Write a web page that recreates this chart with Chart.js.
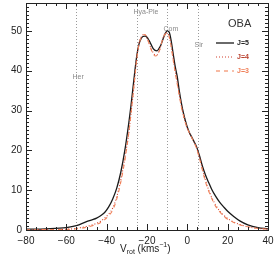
<!DOCTYPE html>
<html>
<head>
<meta charset="utf-8">
<script src="https://cdn.jsdelivr.net/npm/chart.js@4/dist/chart.umd.min.js"></script>
<style>
  html, body { margin: 0; padding: 0; background: #fff; }
  #wrap { width: 274px; height: 256px; }
</style>
</head>
<body>
<div id="wrap"><canvas id="c" width="274" height="256"></canvas></div>
<script>
// Rotation-velocity distribution, three smoothing levels.
const vel = [-80, -70, -60, -55, -50, -47, -45, -43, -41, -39,
  -37, -35, -33, -31, -29, -28, -27, -26, -25, -24,
  -23, -22, -21, -20, -19, -18, -17, -16, -15, -14,
  -13, -12, -11, -10, -9, -8, -7, -6, -5, -4,
  -3, -2, -1, 0, 1, 2, 3, 4.5, 6, 7.5,
  9, 10.5, 12, 14, 16, 18, 20, 23, 26, 30,
  35, 40];
const j5 = [0.2, 0.3, 0.6, 1.1, 2.1, 2.6, 3.0, 3.6, 4.4, 5.8,
  7.8, 10.5, 14.5, 20, 27, 31, 35.5, 40, 44, 46.6,
  48, 48.6, 48.7, 48.4, 47.6, 46.6, 45.6, 45.1, 45.0, 45.6,
  46.6, 48, 49.3, 50, 49.7, 47.5, 44.2, 41, 38.5, 35,
  32, 29.5, 27.5, 25.8, 24.5, 23.5, 22.5, 21, 18.7, 16,
  13.8, 12, 10.3, 8.5, 7, 5.8, 4.7, 3.4, 2.3, 1.3,
  0.6, 0.3];
const j4 = [0.05, 0.1, 0.2, 0.4, 0.9, 1.3, 1.7, 2.2, 3.0, 4.0,
  5.5, 8.3, 12.5, 18, 24.5, 29, 33.5, 38.5, 43.5, 46.8,
  48.3, 49, 49, 48.2, 46.9, 45.6, 44.6, 44.0, 44.0, 44.9,
  46.6, 48.3, 49.3, 49.5, 48.6, 46.3, 43, 39.8, 37, 34,
  31.2, 29, 27, 25.5, 24.4, 23.4, 22.4, 20.8, 18.3, 15.3,
  12.5, 10.2, 8.3, 6.3, 4.8, 3.7, 2.9, 2.0, 1.4, 0.8,
  0.4, 0.2];
const j3 = [0.05, 0.1, 0.15, 0.3, 0.7, 1.1, 1.4, 1.9, 2.6, 3.6,
  5.0, 7.8, 12, 17.5, 24.5, 29, 33.5, 38.5, 43.3, 46.5,
  48.2, 49, 49.1, 48.3, 46.9, 45.4, 44.3, 43.7, 43.8, 44.8,
  46.5, 48.2, 49.2, 49.4, 48.5, 46, 42.6, 39.5, 36.6, 33.8,
  31, 28.9, 27, 25.5, 24.4, 23.4, 22.3, 20.6, 18, 15,
  12.1, 9.9, 8.0, 6.0, 4.6, 3.5, 2.7, 1.9, 1.3, 0.8,
  0.4, 0.2];

// Moving groups marked with dotted verticals.
const groupNames = ['Her', 'Hya-Ple', 'Com', 'Sir'];
const groupV = [-55, -25, -10, 5.5];
const groupLabelY = [38.5, 54.6, 50.4, 46.5];

const seriesNames = ['J=5', 'J=4', 'J=3'];
const seriesColors = ['#1a1a1a', '#d2402e', '#f0825a'];
const seriesText = ['#222222', '#b8402e', '#f0805a'];
const seriesDash = [[], [1, 2], [4, 4]];
const seriesWidth = [1.3, 1.1, 1.1];

const FONT = '"Liberation Sans", Arial, sans-serif';
const pts = ys => vel.map((v, i) => ({ x: v, y: ys[i] }));

const deco = {
  id: 'deco',
  beforeDatasetsDraw(chart) {
    const { ctx, chartArea: a, scales: { x, y } } = chart;
    ctx.save();
    ctx.strokeStyle = '#9a9a9a'; ctx.lineWidth = 1; ctx.setLineDash([1, 2]);
    ctx.font = `7px ${FONT}`; ctx.fillStyle = '#8a8a8a'; ctx.textBaseline = 'middle';
    groupV.forEach((v, i) => {
      const px = Math.round(x.getPixelForValue(v)) + 0.5;
      ctx.beginPath(); ctx.moveTo(px, a.top); ctx.lineTo(px, a.bottom); ctx.stroke();
      ctx.fillText(groupNames[i], px - 4, y.getPixelForValue(groupLabelY[i]));
    });
    ctx.restore();
  },
  afterDraw(chart) {
    const { ctx, chartArea: a, scales: { x, y } } = chart;
    ctx.save();
    ctx.strokeStyle = '#222'; ctx.lineWidth = 1;
    ctx.strokeRect(Math.round(a.left) + 0.5, Math.round(a.top) + 0.5,
      Math.round(a.right - a.left), Math.round(a.bottom - a.top));
    // inward ticks on all four sides, IDL style
    ctx.beginPath();
    for (let v = -80; v <= 40; v += 5) {
      const px = Math.round(x.getPixelForValue(v)) + 0.5;
      const len = v % 20 === 0 ? 6 : 3;
      ctx.moveTo(px, a.bottom); ctx.lineTo(px, a.bottom - len);
      ctx.moveTo(px, a.top); ctx.lineTo(px, a.top + len);
    }
    for (let v = 0; v <= 57; v += 1) {
      const py = Math.round(y.getPixelForValue(v)) + 0.5;
      const len = v % 10 === 0 ? 6 : 3;
      ctx.moveTo(a.left, py); ctx.lineTo(a.left + len, py);
      ctx.moveTo(a.right, py); ctx.lineTo(a.right - len, py);
    }
    ctx.stroke();

    // legend
    ctx.fillStyle = '#333'; ctx.font = `11px ${FONT}`; ctx.textBaseline = 'alphabetic';
    ctx.fillText('OBA', 228, 27);
    ctx.font = `bold 7px ${FONT}`; ctx.textBaseline = 'middle';
    seriesNames.forEach((n, i) => {
      const ly = 43 + i * 14;
      ctx.strokeStyle = seriesColors[i]; ctx.lineWidth = seriesWidth[i];
      ctx.setLineDash(seriesDash[i]);
      ctx.beginPath(); ctx.moveTo(216, ly); ctx.lineTo(234, ly); ctx.stroke();
      ctx.fillStyle = seriesText[i];
      ctx.fillText(n, 237, ly);
    });

    // axis title: V_rot (kms^-1)
    ctx.fillStyle = '#222'; ctx.textBaseline = 'alphabetic';
    let cx = 120;
    const put = (t, size, dy) => {
      ctx.font = `${size}px ${FONT}`;
      ctx.fillText(t, cx, 252 + dy);
      cx += ctx.measureText(t).width;
    };
    put('V', 10, 0); put('rot', 7, 2); put(' (kms', 10, 0); put('\u22121', 7, -5); put(')', 10, 0);
    ctx.restore();
  }
};

new Chart(document.getElementById('c'), {
  type: 'line',
  data: {
    datasets: [j5, j4, j3].map((ys, i) => ({
      label: seriesNames[i],
      data: pts(ys),
      borderColor: seriesColors[i],
      borderWidth: seriesWidth[i],
      borderDash: seriesDash[i],
      pointRadius: 0,
      cubicInterpolationMode: 'monotone',
      fill: false,
    })).reverse(),
  },
  options: {
    responsive: false,
    animation: false,
    layout: { padding: { top: 3, right: 6, left: 0, bottom: 0 } },
    plugins: { legend: { display: false }, tooltip: { enabled: false } },
    scales: {
      x: {
        type: 'linear', min: -80, max: 40,
        grid: { display: false, drawTicks: false }, border: { display: false },
        afterBuildTicks: s => { s.ticks = s.ticks.filter(t => t.value % 20 === 0); },
        afterFit: s => { s.height = 26; s.paddingLeft = 0; s.paddingRight = 0; },
        ticks: {
          stepSize: 20, padding: 5, maxRotation: 0,
          color: '#222', font: { family: FONT, size: 10 },
          callback: v => String(v).replace('-', '\u2212'),
        },
      },
      y: {
        min: 0, max: 57,
        grid: { display: false, drawTicks: false }, border: { display: false },
        afterBuildTicks: s => { s.ticks = s.ticks.filter(t => t.value % 10 === 0); },
        afterFit: s => { s.width = 26; s.paddingTop = 0; s.paddingBottom = 0; },
        ticks: { stepSize: 10, padding: 4, color: '#222', font: { family: FONT, size: 10 } },
      },
    },
  },
  plugins: [deco],
});
</script>
</body>
</html>
